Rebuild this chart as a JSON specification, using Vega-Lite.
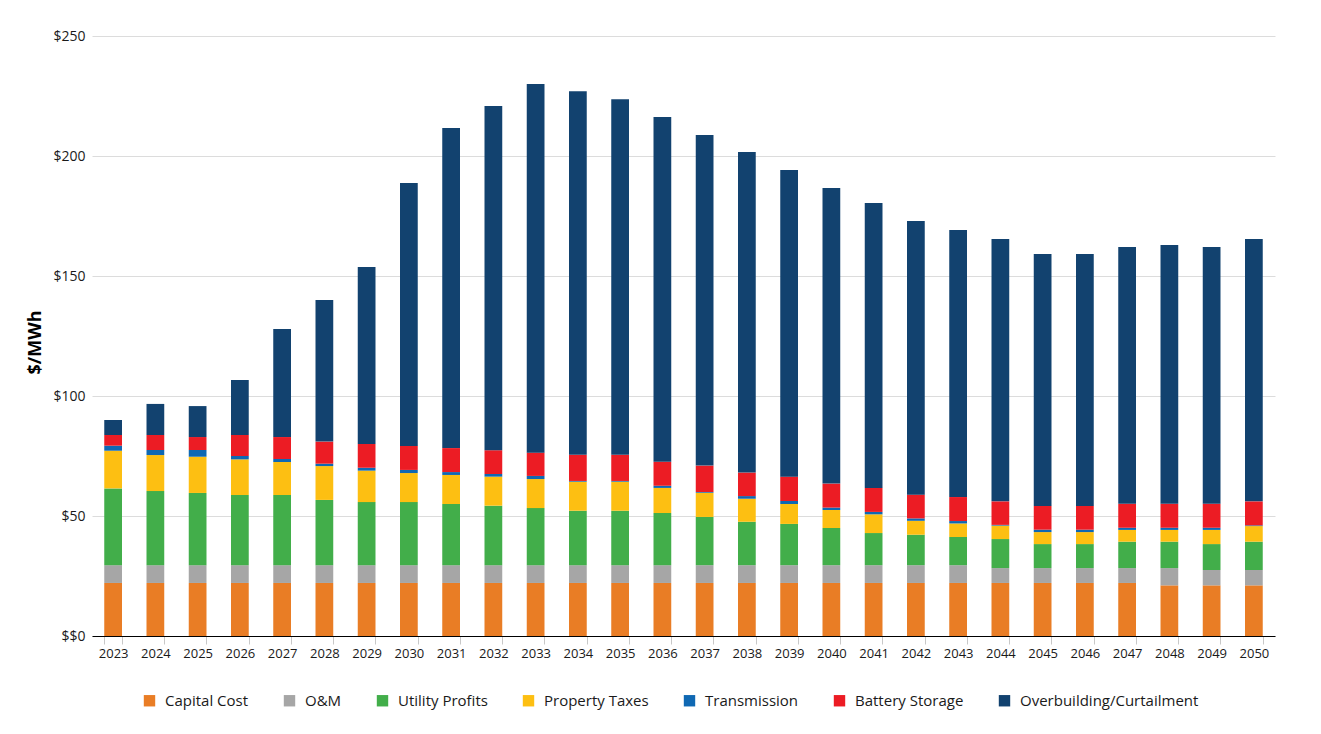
{
  "$schema": "https://vega.github.io/schema/vega-lite/v6.json",
  "autosize": "none",
  "width": 1183,
  "height": 600,
  "padding": {"left": 92, "top": 36, "right": 46, "bottom": 98},
  "background": "white",
  "config": {
    "font": "Open Sans",
    "view": {"stroke": null},
    "axis": {"labelFont": "Open Sans", "titleFont": "Open Sans"},
    "legend": {"labelFont": "Open Sans"}
  },
  "data": {
    "values": [
      {"year": 2023, "Capital Cost": 22.1, "O&M": 7.4, "Utility Profits": 32.0, "Property Taxes": 15.7, "Transmission": 2.1, "Battery Storage": 4.45, "Overbuilding/Curtailment": 6.25},
      {"year": 2024, "Capital Cost": 22.1, "O&M": 7.4, "Utility Profits": 30.9, "Property Taxes": 15.0, "Transmission": 2.1, "Battery Storage": 6.25, "Overbuilding/Curtailment": 12.95},
      {"year": 2025, "Capital Cost": 22.1, "O&M": 7.4, "Utility Profits": 30.1, "Property Taxes": 15.1, "Transmission": 2.8, "Battery Storage": 5.4, "Overbuilding/Curtailment": 12.9},
      {"year": 2026, "Capital Cost": 22.1, "O&M": 7.4, "Utility Profits": 29.25, "Property Taxes": 14.85, "Transmission": 1.4, "Battery Storage": 8.75, "Overbuilding/Curtailment": 22.95},
      {"year": 2027, "Capital Cost": 22.1, "O&M": 7.4, "Utility Profits": 29.25, "Property Taxes": 13.75, "Transmission": 1.25, "Battery Storage": 9.15, "Overbuilding/Curtailment": 45.0},
      {"year": 2028, "Capital Cost": 22.1, "O&M": 7.4, "Utility Profits": 27.2, "Property Taxes": 14.1, "Transmission": 1.0, "Battery Storage": 9.2, "Overbuilding/Curtailment": 59.0},
      {"year": 2029, "Capital Cost": 22.1, "O&M": 7.4, "Utility Profits": 26.3, "Property Taxes": 13.1, "Transmission": 1.2, "Battery Storage": 9.9, "Overbuilding/Curtailment": 73.75},
      {"year": 2030, "Capital Cost": 22.1, "O&M": 7.4, "Utility Profits": 26.3, "Property Taxes": 12.1, "Transmission": 1.3, "Battery Storage": 10.0, "Overbuilding/Curtailment": 109.55},
      {"year": 2031, "Capital Cost": 22.1, "O&M": 7.4, "Utility Profits": 25.5, "Property Taxes": 12.1, "Transmission": 1.2, "Battery Storage": 10.0, "Overbuilding/Curtailment": 133.4},
      {"year": 2032, "Capital Cost": 22.1, "O&M": 7.4, "Utility Profits": 24.8, "Property Taxes": 12.1, "Transmission": 1.1, "Battery Storage": 9.9, "Overbuilding/Curtailment": 143.4},
      {"year": 2033, "Capital Cost": 22.1, "O&M": 7.4, "Utility Profits": 23.8, "Property Taxes": 12.1, "Transmission": 1.3, "Battery Storage": 9.7, "Overbuilding/Curtailment": 153.6},
      {"year": 2034, "Capital Cost": 22.1, "O&M": 7.4, "Utility Profits": 22.7, "Property Taxes": 12.1, "Transmission": 0.3, "Battery Storage": 10.9, "Overbuilding/Curtailment": 151.5},
      {"year": 2035, "Capital Cost": 22.1, "O&M": 7.4, "Utility Profits": 22.7, "Property Taxes": 12.1, "Transmission": 0.3, "Battery Storage": 10.9, "Overbuilding/Curtailment": 148.1},
      {"year": 2036, "Capital Cost": 22.1, "O&M": 7.4, "Utility Profits": 21.75, "Property Taxes": 10.45, "Transmission": 0.9, "Battery Storage": 10.0, "Overbuilding/Curtailment": 143.65},
      {"year": 2037, "Capital Cost": 22.1, "O&M": 7.4, "Utility Profits": 20.1, "Property Taxes": 10.1, "Transmission": 0.3, "Battery Storage": 11.0, "Overbuilding/Curtailment": 137.75},
      {"year": 2038, "Capital Cost": 22.1, "O&M": 7.4, "Utility Profits": 18.1, "Property Taxes": 9.6, "Transmission": 1.1, "Battery Storage": 9.8, "Overbuilding/Curtailment": 133.6},
      {"year": 2039, "Capital Cost": 22.1, "O&M": 7.4, "Utility Profits": 17.2, "Property Taxes": 8.3, "Transmission": 1.25, "Battery Storage": 10.15, "Overbuilding/Curtailment": 127.8},
      {"year": 2040, "Capital Cost": 22.1, "O&M": 7.4, "Utility Profits": 15.5, "Property Taxes": 7.5, "Transmission": 1.0, "Battery Storage": 10.0, "Overbuilding/Curtailment": 123.2},
      {"year": 2041, "Capital Cost": 22.1, "O&M": 7.4, "Utility Profits": 13.4, "Property Taxes": 7.8, "Transmission": 1.0, "Battery Storage": 10.0, "Overbuilding/Curtailment": 118.7},
      {"year": 2042, "Capital Cost": 22.1, "O&M": 7.4, "Utility Profits": 12.7, "Property Taxes": 5.8, "Transmission": 1.0, "Battery Storage": 9.9, "Overbuilding/Curtailment": 114.0},
      {"year": 2043, "Capital Cost": 22.1, "O&M": 7.4, "Utility Profits": 11.75, "Property Taxes": 5.65, "Transmission": 1.0, "Battery Storage": 10.0, "Overbuilding/Curtailment": 111.3},
      {"year": 2044, "Capital Cost": 22.1, "O&M": 6.2, "Utility Profits": 12.1, "Property Taxes": 5.6, "Transmission": 0.3, "Battery Storage": 9.8, "Overbuilding/Curtailment": 109.3},
      {"year": 2045, "Capital Cost": 22.1, "O&M": 6.2, "Utility Profits": 10.0, "Property Taxes": 5.0, "Transmission": 1.0, "Battery Storage": 9.9, "Overbuilding/Curtailment": 105.0},
      {"year": 2046, "Capital Cost": 22.1, "O&M": 6.2, "Utility Profits": 10.0, "Property Taxes": 5.0, "Transmission": 1.0, "Battery Storage": 9.9, "Overbuilding/Curtailment": 105.0},
      {"year": 2047, "Capital Cost": 22.1, "O&M": 6.2, "Utility Profits": 11.0, "Property Taxes": 4.9, "Transmission": 0.9, "Battery Storage": 10.0, "Overbuilding/Curtailment": 107.0},
      {"year": 2048, "Capital Cost": 21.1, "O&M": 7.2, "Utility Profits": 11.0, "Property Taxes": 4.9, "Transmission": 0.9, "Battery Storage": 10.0, "Overbuilding/Curtailment": 107.8},
      {"year": 2049, "Capital Cost": 21.1, "O&M": 6.4, "Utility Profits": 10.8, "Property Taxes": 5.9, "Transmission": 0.9, "Battery Storage": 10.0, "Overbuilding/Curtailment": 107.0},
      {"year": 2050, "Capital Cost": 21.1, "O&M": 6.4, "Utility Profits": 11.8, "Property Taxes": 6.5, "Transmission": 0.3, "Battery Storage": 10.0, "Overbuilding/Curtailment": 109.3}
    ]
  },
  "transform": [
    {"fold": ["Capital Cost", "O&M", "Utility Profits", "Property Taxes", "Transmission", "Battery Storage", "Overbuilding/Curtailment"], "as": ["component", "value"]},
    {"window": [{"op": "row_number", "as": "stackOrder"}], "groupby": ["year"]}
  ],
  "mark": {"type": "bar"},
  "encoding": {
    "x": {
      "field": "year",
      "type": "ordinal",
      "scale": {"paddingInner": 0.58, "paddingOuter": 0.29},
      "axis": {
        "title": null,
        "labelAngle": 0,
        "labelFontSize": 13,
        "labelColor": "#1a1a1a",
        "labelPadding": 3,
        "tickBand": "extent",
        "tickColor": "#c8c8c8",
        "tickSize": 8,
        "domainColor": "#000000",
        "domainWidth": 1.2,
        "grid": false
      }
    },
    "y": {
      "field": "value",
      "type": "quantitative",
      "stack": "zero",
      "scale": {"domain": [0, 250], "nice": false},
      "axis": {
        "title": "$/MWh",
        "titleFontSize": 18,
        "titleFontWeight": "bold",
        "titleColor": "#000000",
        "titlePadding": 8,
        "titleY": 306,
        "values": [0, 50, 100, 150, 200, 250],
        "labelExpr": "datum.value == 0 ? '$$0' : '$' + datum.value",
        "labelFontSize": 14,
        "labelColor": "#1a1a1a",
        "labelPadding": 7,
        "ticks": false,
        "domain": false,
        "grid": true,
        "gridColor": "#dcdcdc",
        "gridWidth": 1
      }
    },
    "color": {
      "field": "component",
      "type": "nominal",
      "scale": {
        "domain": ["Capital Cost", "O&M", "Utility Profits", "Property Taxes", "Transmission", "Battery Storage", "Overbuilding/Curtailment"],
        "range": ["#E97D25", "#A6A6A6", "#42AE4A", "#FDBF12", "#0F68B3", "#EC1C24", "#12426F"]
      },
      "legend": {
        "title": null,
        "orient": "none",
        "direction": "horizontal",
        "legendX": 50,
        "legendY": 657,
        "symbolType": "square",
        "symbolSize": 130,
        "symbolStrokeWidth": 0,
        "labelFontSize": 15,
        "labelLimit": 400,
        "labelColor": "#1a1a1a",
        "labelOffset": 8,
        "columnPadding": 33
      }
    },
    "order": {"field": "stackOrder", "type": "quantitative", "sort": "ascending"}
  }
}
